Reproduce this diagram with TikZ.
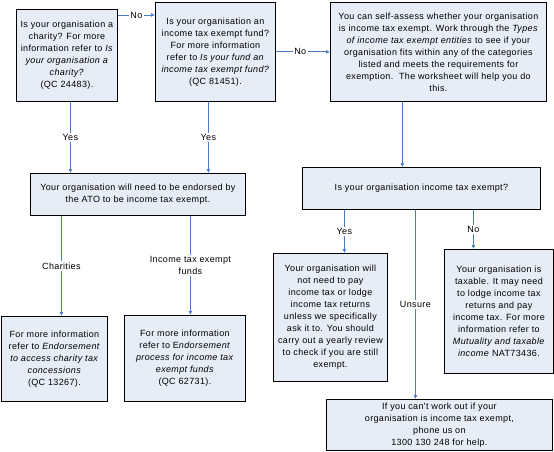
\documentclass[tikz,border=0pt]{standalone}
\usepackage{fontspec}
\setmainfont{Liberation Sans}
\newfontfamily\boxfont{Liberation Sans}[LetterSpace=4]
\usetikzlibrary{arrows.meta}
\definecolor{boxfill}{HTML}{E6EDF7}
\definecolor{linkblue}{HTML}{4A7BC6}
\begin{document}
\begin{tikzpicture}[x=1pt,y=-1pt,
  box/.style={draw=black,line width=0.8pt,fill=boxfill,inner sep=0pt,anchor=north west,align=center,
    font=\boxfont\fontsize{9}{12}\selectfont},
  arr/.style={draw=linkblue,line width=0.9pt,-{Latex[length=4pt,width=4pt]}},
  lab/.style={fill=white,inner sep=1.5pt,align=center,font=\boxfont\fontsize{9}{12}\selectfont}]
\useasboundingbox (0,0) rectangle (554,451);
\fill[white] (0,0) rectangle (554,451);
\node[box,minimum width=101pt,minimum height=92pt] (A) at (16,9)
 {Is your organisation a\\ charity? For more\\ information refer to \textit{Is}\\ \textit{your organisation a}\\ \textit{charity?}\\ (QC 24483).};
\node[box,minimum width=120pt,minimum height=99pt] (B) at (155,2)
 {Is your organisation an\\ income tax exempt fund?\\ For more information\\ refer to \textit{Is your fund an}\\ \textit{income tax exempt fund?}\\ (QC 81451).};
\node[box,minimum width=216pt,minimum height=99pt] (C) at (330,2)
 {You can self-assess whether your organisation\\ is income tax exempt. Work through the \textit{Types}\\ \textit{of income tax exempt entities} to see if your\\ organisation fits within any of the categories\\ listed and meets the requirements for\\ exemption.\ \ The worksheet will help you do\\ this.};
\node[box,minimum width=215pt,minimum height=42pt] (D) at (30,173)
 {Your organisation will need to be endorsed by\\ the ATO to be income tax exempt.};
\node[box,minimum width=238pt,minimum height=42pt] (E) at (302,167)
 {Is your organisation income tax exempt?};
\node[box,minimum width=114pt,minimum height=128pt] (F) at (273,253)
 {Your organisation will\\ not need to pay\\ income tax or lodge\\ income tax returns\\ unless we specifically\\ ask it to. You should\\ carry out a yearly review\\ to check if you are still\\ exempt.};
\node[box,minimum width=109pt,minimum height=124pt] (G) at (444,249)
 {Your organisation is\\ taxable. It may need\\ to lodge income tax\\ returns and pay\\ income tax. For more\\ information refer to\\ \textit{Mutuality and taxable}\\ \textit{income} NAT73436.};
\node[box,minimum width=226pt,minimum height=51pt] (H) at (326,399)
 {If you can't work out if your\\ organisation is income tax exempt,\\ phone us on\\ 1300 130 248 for help.};
\node[box,minimum width=106pt,minimum height=85pt] (I) at (1,316)
 {For more information\\ refer to \textit{Endorsement}\\ \textit{to access charity tax}\\ \textit{concessions}\\ (QC 13267).};
\node[box,minimum width=121pt,minimum height=86pt] (J) at (124,315)
 {For more information\\ refer to E\textit{ndorsement}\\ \textit{process for income tax}\\ \textit{exempt funds}\\ (QC 62731).};
% horizontal No arrows
\coordinate (a0) at ([yshift=-6pt]A.north east);
\draw[arr] (a0) -- node[lab]{No} (a0 -| B.west);
\draw[arr] (B.east) -- node[lab,pos=0.45]{No} (C.west);
% Yes arrows to D
\coordinate (a1) at ([xshift=3.5pt]A.south);
\draw[arr] (a1) -- node[lab]{Yes} (a1 |- D.north);
\coordinate (b1) at ([xshift=-7pt]B.south);
\draw[arr] (b1) -- node[lab]{Yes} (b1 |- D.north);
% C to E
\coordinate (c1) at ([xshift=-36pt]C.south);
\draw[arr] (c1) -- (c1 |- E.north);
% D to I, J
\coordinate (d1) at ([xshift=-76.5pt]D.south);
\draw[arr] (d1) -- node[lab,pos=0.5]{Charities} (d1 |- I.north);
\coordinate (d2) at ([xshift=52.5pt]D.south);
\draw[arr] (d2) -- node[lab,pos=0.5]{Income tax exempt\\ funds} (d2 |- J.north);
% E to F, G, H
\coordinate (e1) at ([xshift=-77pt]E.south);
\draw[arr] (e1) -- node[lab]{Yes} (e1 |- F.north);
\coordinate (e2) at ([xshift=52pt]E.south);
\draw[arr] (e2) -- node[lab]{No} (e2 |- G.north);
\coordinate (e3) at ([xshift=-6pt]E.south);
\draw[arr] (e3) -- node[lab,pos=0.5]{Unsure} (e3 |- H.north);
\end{tikzpicture}
\end{document}
